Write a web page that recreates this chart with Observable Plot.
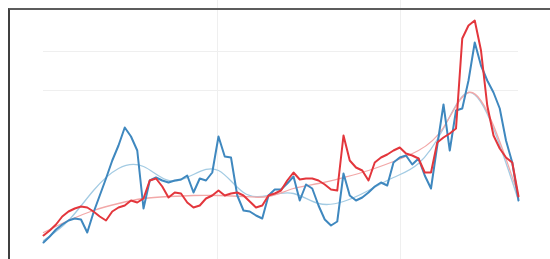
<!DOCTYPE html>
<html>
<head>
<meta charset="utf-8">
<script src="https://cdn.jsdelivr.net/npm/d3@7"></script>
<script src="https://cdn.jsdelivr.net/npm/@observablehq/plot@0.6"></script>
<style>
  body { margin: 0; background: #fff; }
  #wrap { position: relative; width: 550px; height: 259px; overflow: hidden; }
  #wrap svg { position: absolute; left: 0; top: 0; }
  .frame { position: absolute; left: 8px; top: 8px; right: -10px; bottom: -10px;
           border-top: 2px solid #5c5c5c; border-left: 2px solid #404040; pointer-events: none; }
</style>
</head>
<body>
<div id="wrap"><div class="frame"></div></div>
<script>
// sample index (time step)
const steps = d3.range(77);
// series values (arbitrary units)
const blueValues = [17,23,30,35,39,41,40,27,47,64,81,99,114,132,123,109,51,79,82,79,
  77,79,80,84,67,81,79,87,123,103,102,64,49,48,44,41,64,70,70,76,
  83,59,75,71,54,40,34,38,86,64,59,62,67,73,77,74,97,102,104,95,
  101,84,71,114,155,109,149,151,179,217,194,179,167,151,119,97,59];
const redValues = [24,29,35,43,48,51,53,52,48,43,39,48,52,54,59,57,61,79,81,73,
  62,67,66,57,52,54,61,64,69,64,66,67,64,58,52,54,64,66,69,79,
  87,80,81,81,79,75,70,69,124,99,92,89,79,97,102,105,109,112,106,104,
  101,87,87,117,122,126,131,221,234,239,209,154,124,111,102,97,63];
// smoothed trend values at every 4th step
const trendSteps = [0,4,8,12,16,20,24,28,32,36,40,44,48,52,56,60,64,68,72,76];
const blueTrend = [19,39,69,91,93,79,85,89,67,64,66,56,58,69,82,96,131,167,131,59];
const redTrend = [27,39,49,56,61,63,64,64,63,63,71,76,82,89,98,109,132,167,134,64];
// faint grid positions
const xGrid = [27.84, 57.12];
const yGrid = [169, 208];

const blueData = steps.map((s, i) => ({s, v: blueValues[i]}));
const redData = steps.map((s, i) => ({s, v: redValues[i]}));
const blueTrendData = trendSteps.map((s, i) => ({s, v: blueTrend[i]}));
const redTrendData = trendSteps.map((s, i) => ({s, v: redTrend[i]}));

const chart = Plot.plot({
  width: 550,
  height: 259,
  marginTop: 0, marginBottom: 0, marginLeft: 43, marginRight: 32,
  x: {domain: [0, 76], axis: null},
  y: {domain: [0, 259], axis: null},
  marks: [
    Plot.gridX(xGrid, {stroke: "#efefef", strokeOpacity: 1}),
    Plot.gridY(yGrid, {stroke: "#efefef", strokeOpacity: 1}),
    Plot.lineY(blueTrendData, {x: "s", y: "v", stroke: "#a3cbe3", strokeWidth: 1.3, curve: "natural"}),
    Plot.lineY(redTrendData, {x: "s", y: "v", stroke: "#f2a8a8", strokeWidth: 1.3, curve: "natural"}),
    Plot.lineY(blueData, {x: "s", y: "v", stroke: "#3f88bf", strokeWidth: 2}),
    Plot.lineY(redData, {x: "s", y: "v", stroke: "#e3363c", strokeWidth: 2})
  ]
});
document.getElementById("wrap").prepend(chart);
</script>
</body>
</html>
